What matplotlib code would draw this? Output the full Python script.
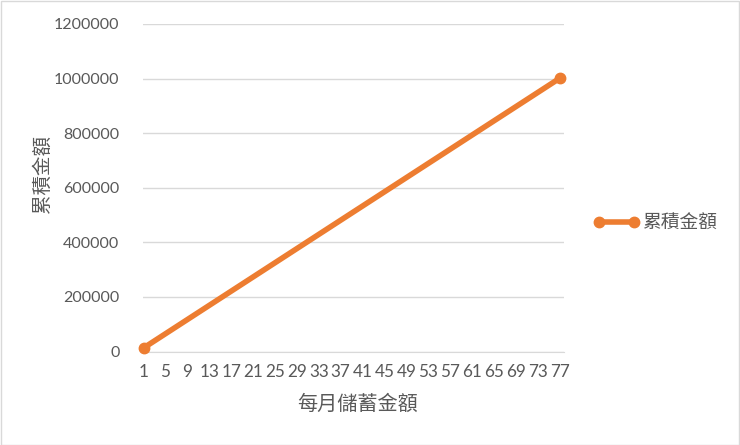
import matplotlib
matplotlib.use("Agg")
import matplotlib.pyplot as plt
from matplotlib.patches import Rectangle
from matplotlib.lines import Line2D

months = list(range(1, 78))
cumulative = [13000, 26000, 39000, 52000, 65000, 78000, 91000, 104000, 117000, 130000,
              143000, 156000, 169000, 182000, 195000, 208000, 221000, 234000, 247000, 260000,
              273000, 286000, 299000, 312000, 325000, 338000, 351000, 364000, 377000, 390000,
              403000, 416000, 429000, 442000, 455000, 468000, 481000, 494000, 507000, 520000,
              533000, 546000, 559000, 572000, 585000, 598000, 611000, 624000, 637000, 650000,
              663000, 676000, 689000, 702000, 715000, 728000, 741000, 754000, 767000, 780000,
              793000, 806000, 819000, 832000, 845000, 858000, 871000, 884000, 897000, 910000,
              923000, 936000, 949000, 962000, 975000, 988000, 1001000]
x_ticks = list(range(1, 78, 4))
y_ticks = [0, 200000, 400000, 600000, 800000, 1000000, 1200000]
series_name = "累積金額"
x_title = "每月儲蓄金額"
y_title = "累積金額"

W, H = 740, 445
fig = plt.figure(figsize=(W/100, H/100), dpi=100)
fig.patch.set_facecolor("white")
fig.patches.append(Rectangle((0.5/W, 0.5/H), 1-1.5/W, 1-1.5/H, transform=fig.transFigure,
                             fill=False, edgecolor="#D9D9D9", lw=1))

left, right, top, bottom = 143, 564, 24, 351.5
ax = fig.add_axes([left/W, 1-bottom/H, (right-left)/W, (bottom-top)/H])
orange = "#ED7D31"
gray = "#595959"
num_font = "Lato"
cjk = ["Noto Sans CJK TC", "DejaVu Sans"]

ax.plot(months, cumulative, color=orange, lw=4, solid_capstyle="round", zorder=3,
        marker="o", markersize=7.5, markevery=[0, len(months)-1], clip_on=False)
ax.set_xlim(0.9, 77.8)
ax.set_ylim(0, 1200000)
ax.set_yticks(y_ticks)
ax.set_yticklabels([str(v) for v in y_ticks], fontfamily=num_font, fontsize=11.5, color=gray)
ax.set_xticks(x_ticks)
ax.set_xticklabels([str(v) for v in x_ticks], fontfamily=num_font, fontsize=12.3, color=gray)
ax.tick_params(length=0)
ax.tick_params(axis="y", pad=17)
ax.tick_params(axis="x", pad=9)
ax.grid(axis="y", color="#D9D9D9", lw=1)
ax.set_axisbelow(True)
for s in ["top", "right", "left"]:
    ax.spines[s].set_visible(False)
ax.spines["bottom"].set_color("#D9D9D9")

fig.text(358/W, 1-404/H, x_title, ha="center", va="center", fontsize=14.5, color=gray, family=cjk)
fig.text(42/W, 1-174/H, y_title, ha="center", va="center", rotation=90, fontsize=14, color=gray, family=cjk)

handle = Line2D([0], [0], color=orange, lw=4, marker="o", markersize=7.5)
leg = fig.legend(handles=[handle], labels=[series_name], loc="center left",
                 bbox_to_anchor=(580/W, 1-223/H), frameon=False, handlelength=2.5,
                 handletextpad=0.1, numpoints=2, borderpad=0.2, prop={"family": cjk, "size": 13.5})
for t in leg.get_texts():
    t.set_color(gray)

fig.savefig("out.png", dpi=100)
